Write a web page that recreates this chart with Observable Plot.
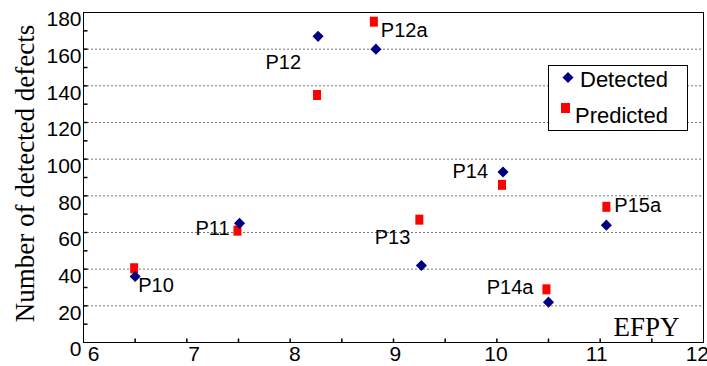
<!DOCTYPE html>
<html><head><meta charset="utf-8">
<script src="https://cdn.jsdelivr.net/npm/d3@7"></script>
<script src="https://cdn.jsdelivr.net/npm/@observablehq/plot@0.6"></script>
<style>
body{margin:0;background:#fff;}
#wrap{position:relative;width:707px;height:366px;}
#legend{position:absolute;left:548px;top:65px;}
</style></head><body><div id="wrap"></div>
<script>
// ---- data ----
const names = ["P10","P11","P12","P12a","P13","P14","P14a","P15a"];
const detectedEfpy = [6.50,7.51,8.27,8.83,9.27,10.06,10.50,11.06];
const detected = [36,65,167,160,42,93,22,64];
const predictedEfpy = [6.49,7.49,8.26,8.81,9.25,10.05,10.48,11.06];
const predicted = [40.5,61,135,175,67,86,29,74];
const xTicks = [6,7,8,9,10,11,12];
const yTicks = [0,20,40,60,80,100,120,140,160,180];
const gridValues = [20,40,60,80,100,120,140,160];
const minorX = [6.5,7,7.5,8,8.5,9,9.5,10,10.5,11,11.5];
const minorY = [10,20,30,40,50,60,70,80,90,100,110,120,130,140,150,160,170];
const seriesNames = ["Detected","Predicted"];
const xTitle = "EFPY";
const yTitle = "Number of detected defects";

// ---- label placement (styling) ----
const placement = {
  P10:  {on:"d", anchor:"start", dx:3,   dy:9},
  P11:  {on:"d", anchor:"end",   dx:-10, dy:5},
  P12:  {on:"d", anchor:"end",   dx:-17, dy:26},
  P12a: {on:"p", anchor:"start", dx:7,   dy:9},
  P13:  {on:"p", anchor:"end",   dx:-9,  dy:18},
  P14:  {on:"d", anchor:"end",   dx:-15, dy:0},
  P14a: {on:"p", anchor:"end",   dx:-13, dy:-2},
  P15a: {on:"p", anchor:"start", dx:8,   dy:-1}
};

const detRows = names.map((n,i)=>({name:n, efpy:detectedEfpy[i], value:detected[i]}));
const preRows = names.map((n,i)=>({name:n, efpy:predictedEfpy[i], value:predicted[i]}));

const sans = "Liberation Sans, Arial, sans-serif";
const serif = "Liberation Serif, Times New Roman, serif";
const tickRight = {draw(ctx){ctx.moveTo(0,0);ctx.lineTo(4,0);}};
const tickUp = {draw(ctx){ctx.moveTo(0,0);ctx.lineTo(0,-4);}};
const rectSym = {draw(ctx){ctx.rect(-4,-5,8,10);}};

const labelMarks = names.map((n,i)=>{
  const p = placement[n];
  const row = p.on === "d" ? detRows[i] : preRows[i];
  return Plot.text([row], {x:"efpy", y:"value", text:"name", textAnchor:p.anchor, dx:p.dx, dy:p.dy,
    fontSize:20, fontFamily:sans, fill:"#000"});
});

// x tick labels drift slightly leftwards in the original (label offset per tick)
const xAxisMarks = xTicks.map((v,i)=>Plot.axisX({ticks:[v], tickSize:0, tickPadding:4,
  dx: 10 - i*2.7, fontSize:21, label:null, tickFormat:d3.format("d")}));

const chart = Plot.plot({
  width:707, height:366,
  marginLeft:83, marginRight:4, marginTop:12, marginBottom:24,
  x:{domain:[6,12]},
  y:{domain:[0,180]},
  style:{fontFamily:sans, fontSize:"21px", color:"#000", background:"#fff", overflow:"visible"},
  marks:[
    Plot.gridY({ticks:gridValues, stroke:"#777", strokeOpacity:1, strokeDasharray:"2,2"}),
    Plot.frame({stroke:"#000"}),
    Plot.dot(minorY, {y:d=>d, frameAnchor:"left", symbol:tickRight, r:3, stroke:"#000", fill:"none"}),
    Plot.dot(minorX, {x:d=>d, frameAnchor:"bottom", symbol:tickUp, r:3, stroke:"#000", fill:"none"}),
    Plot.axisY({ticks:yTicks, tickSize:0, tickPadding:2, dy:7, fontSize:21, label:null, tickFormat:d3.format("d")}),
    ...xAxisMarks,
    Plot.dot(preRows, {x:"efpy", y:"value", symbol:rectSym, r:4, fill:"#ff0000", stroke:"none"}),
    Plot.dot(detRows, {x:"efpy", y:"value", symbol:"diamond2", r:5, fill:"#000080", stroke:"none"}),
    ...labelMarks,
    Plot.text([xTitle], {frameAnchor:"bottom-right", textAnchor:"end", lineAnchor:"bottom", dx:-24, dy:-7,
      fontFamily:serif, fontSize:27, fill:"#000"}),
    Plot.text([yTitle], {frameAnchor:"left", textAnchor:"middle", lineAnchor:"middle", rotate:-90, dx:-58, dy:-4,
      fontFamily:serif, fontSize:27, fill:"#000"})
  ]
});
const wrap = document.getElementById("wrap");
wrap.appendChild(chart);

// legend
const ns = "http://www.w3.org/2000/svg";
const lg = document.createElementNS(ns, "svg");
lg.setAttribute("id","legend");
lg.setAttribute("width","140"); lg.setAttribute("height","66");
lg.innerHTML = `
<rect x="0.5" y="0.5" width="139" height="65" fill="#fff" stroke="#000" stroke-width="1"/>
<polygon points="20,7 25.5,12.5 20,18 14.5,12.5" fill="#000080"/>
<text x="32" y="21.5" font-family="${sans}" font-size="22" fill="#000">${seriesNames[0]}</text>
<rect x="13" y="38" width="9" height="10" fill="#ff0000"/>
<text x="27" y="57.5" font-family="${sans}" font-size="22" fill="#000">${seriesNames[1]}</text>`;
wrap.appendChild(lg);
</script></body></html>
